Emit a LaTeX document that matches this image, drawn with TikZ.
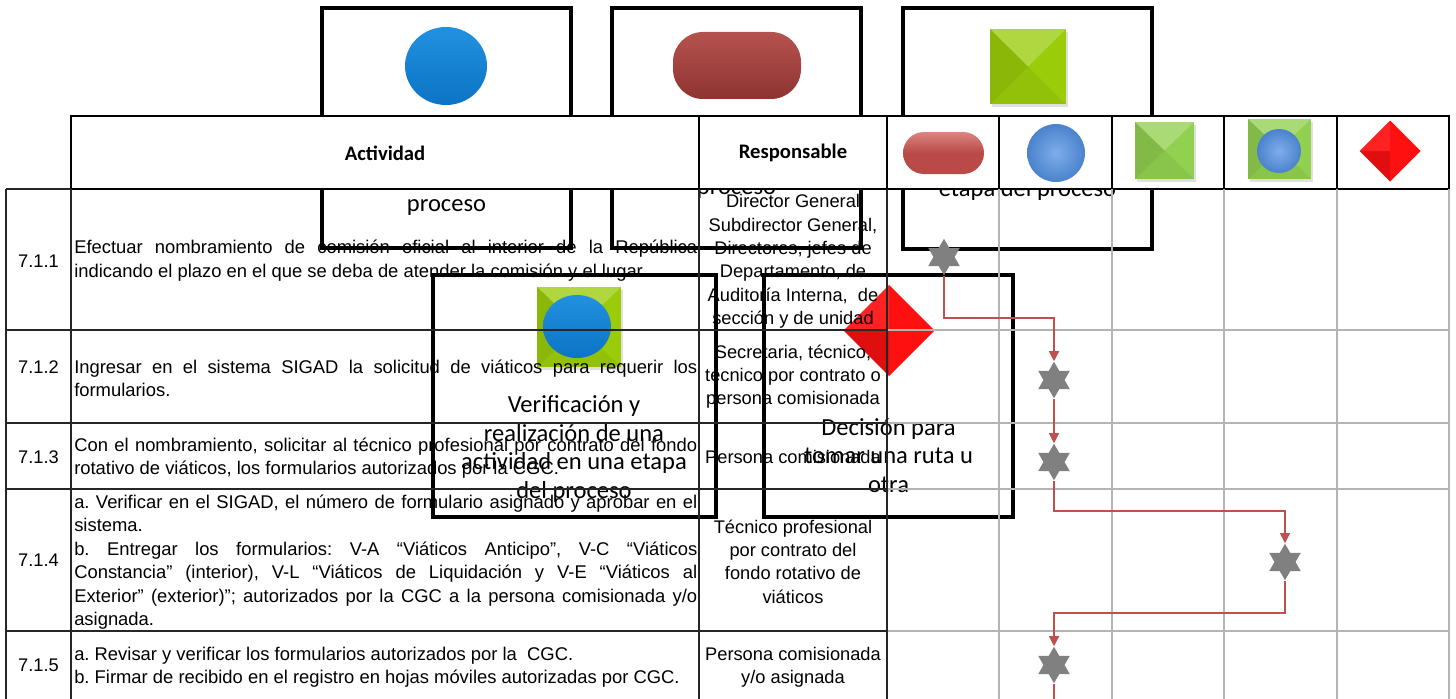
\documentclass[tikz,border=0pt]{standalone}
\usepackage{fontspec}
\setmainfont{Liberation Sans}
\newfontfamily\calib{Carlito}
\usetikzlibrary{shapes.geometric,arrows.meta,calc}
\newdimen\px \px=0.75pt
\hyphenpenalty=10000 \exhyphenpenalty=10000
\frenchspacing
\definecolor{boxblue}{HTML}{0C74C4}
\definecolor{boxbluelt}{HTML}{2290E0}
\definecolor{boxred}{HTML}{8F3431}
\definecolor{boxredlt}{HTML}{B5524E}
\definecolor{boxgreen}{HTML}{9BCC0A}
\definecolor{hdrred}{HTML}{B94A47}
\definecolor{hdrredlt}{HTML}{DC8481}
\definecolor{hdrblue}{HTML}{4A82CC}
\definecolor{hdrbluelt}{HTML}{7EAEEA}
\definecolor{hdrgreen}{HTML}{92D050}
\definecolor{diamred}{HTML}{FF1010}
\definecolor{stargray}{HTML}{808080}
\definecolor{connred}{HTML}{C0504D}
\definecolor{gridgray}{HTML}{B4B4B4}
\newcommand{\jline}[1]{\makebox[623\px][s]{#1}}
\newcommand{\pyrsq}[5]{%
  \fill[black,opacity=.12] ({#1-#3+2},{#2-#4+3}) rectangle ({#1+#3+2},{#2+#4+3});
  \fill[#5] ({#1-#3},{#2-#4}) rectangle ({#1+#3},{#2+#4});
  \fill[white,opacity=.22] ({#1-#3},{#2-#4}) -- ({#1+#3},{#2-#4}) -- (#1,#2) -- cycle;
  \fill[black,opacity=.10] ({#1-#3},{#2-#4}) -- ({#1-#3},{#2+#4}) -- (#1,#2) -- cycle;
  \fill[black,opacity=.05] ({#1-#3},{#2+#4}) -- ({#1+#3},{#2+#4}) -- (#1,#2) -- cycle;
}
\newcommand{\diam}[3]{%
  \fill[diamred] ({#1-#3},#2) -- (#1,{#2-#3}) -- ({#1+#3},#2) -- (#1,{#2+#3}) -- cycle;
  \fill[black,opacity=.12] ({#1-#3},#2) -- (#1,#2) -- (#1,{#2+#3}) -- cycle;
  \fill[white,opacity=.08] ({#1-#3},#2) -- (#1,{#2-#3}) -- (#1,#2) -- cycle;
}
\begin{document}
\begin{tikzpicture}[x=0.75pt,y=-0.75pt,
  legendbox/.style={draw=black,line width=4\px},
  hdrcell/.style={draw=black,line width=1.4\px,fill=white},
  bodyline/.style={draw=black!85,line width=1.5\px},
  gridline/.style={draw=gridgray,line width=1.4\px},
  boxtxt/.style={font=\calib\fontsize{18.4}{21.6}\selectfont,align=center,inner sep=0pt},
  hdrtxt/.style={font=\calib\bfseries\fontsize{15.5}{18}\selectfont,inner sep=0pt},
  acttxt/.style={font=\fontsize{13.8}{17.6}\selectfont,align=left,inner sep=0pt,anchor=west},
  resptxt/.style={font=\fontsize{13.7}{17.5}\selectfont,align=center,inner sep=0pt},
  numtxt/.style={font=\fontsize{13.7}{16}\selectfont,inner sep=0pt},
  stepstar/.style={star,star points=6,star point ratio=1.73,minimum size=36.5\px,inner sep=0pt,fill=stargray,draw=none},
  conn/.style={draw=connred,line width=1.2\px,-{Triangle[width=7.5pt,length=7.5pt]}},
  connplain/.style={draw=connred,line width=1.2\px}]
\useasboundingbox (0,0) rectangle (1456,699);
% ---- legend boxes (top) ----
\draw[legendbox] (322,8) rectangle (571,248);
\shade[top color=boxbluelt,bottom color=boxblue] (446,66) ellipse [x radius=41\px,y radius=39\px];
\node[boxtxt,anchor=base] (t1) at (446.5,211) {proceso};
\draw[legendbox] (612,8) rectangle (861,248);
\shade[top color=boxredlt,bottom color=boxred,rounded corners=30\px] (673,32) rectangle (801,99);
\node[boxtxt,anchor=base] (t2) at (736.5,194) {proceso};
\draw[legendbox] (903,8) rectangle (1152,249);
\pyrsq{1028}{66.5}{38}{37.5}{boxgreen}
\node[boxtxt,anchor=base] (t3) at (1027.5,196) {etapa del proceso};
% ---- legend boxes (lower) ----
\draw[legendbox] (433,275) rectangle (716,517);
\pyrsq{579}{327}{42}{40}{boxgreen}
\shade[top color=boxbluelt,bottom color=boxblue] (577,326.5) ellipse [x radius=34\px,y radius=31.5\px];
\node[boxtxt] (t4) at (574,449) {Verificación y\\realización de una\\actividad en una etapa\\del proceso};
\draw[legendbox] (764,275) rectangle (1013,517);
\diam{889}{330.5}{45.5}
\node[boxtxt] (t5) at (888.5,455.5) {Decisión para\\tomar una ruta u\\otra};
% ---- header ----
\draw[hdrcell] (71,116) rectangle (699,189);
\draw[hdrcell] (699,116) rectangle (887,189);
\foreach \a/\b in {887/999,999/1112,1112/1224,1224/1337,1337/1449}
  \draw[hdrcell] (\a,116) rectangle (\b,189);
\node[hdrtxt] (h1) at (385,153) {Actividad};
\node[hdrtxt] (h2) at (793,153) {Responsable};
\shade[top color=hdrredlt,bottom color=hdrred,middle color=hdrred,rounded corners=21\px] (903,132) rectangle (984,174);
\shade[inner color=hdrbluelt,outer color=hdrblue] (1056,153) circle [radius=29\px];
\pyrsq{1164.5}{150.5}{29.5}{28.5}{hdrgreen}
\pyrsq{1279.5}{149}{31.5}{30}{hdrgreen}
\shade[inner color=hdrbluelt,outer color=hdrblue] (1279,151) circle [radius=22\px];
\diam{1390}{151}{30.5}
% ---- body grid ----
\foreach \y in {330,423,489,631} \draw[gridline] (887,\y) -- (1449,\y);
\foreach \x in {999,1112,1224,1337,1449} \draw[gridline] (\x,189) -- (\x,699);
\draw[bodyline] (6,189) -- (71,189);
\foreach \y in {330,423,489,631} \draw[bodyline] (6,\y) -- (887,\y);
\foreach \x in {6,71,699,887} \draw[bodyline] (\x,189) -- (\x,699);
% ---- numbers ----
\node[numtxt] (n1) at (38.5,261) {7.1.1};
\node[numtxt] (n2) at (38.5,367) {7.1.2};
\node[numtxt] (n3) at (38.5,457) {7.1.3};
\node[numtxt] (n4) at (38.5,560) {7.1.4};
\node[numtxt] (n5) at (38.5,665) {7.1.5};
% ---- activities ----
\node[acttxt] (a1) at (74,260.5) {\jline{Efectuar nombramiento de comisión oficial al interior de la República}\\indicando el plazo en el que se deba de atender la comisión y el lugar.};
\node[acttxt] (a2) at (74,378.5) {\jline{Ingresar en el sistema SIGAD la solicitud de viáticos para requerir los}\\formularios.};
\node[acttxt] (a3) at (74,458) {\jline{Con el nombramiento, solicitar al técnico profesional por contrato del fondo}\\rotativo de viáticos, los formularios autorizados por la CGC.};
\node[acttxt] (a4) at (74,562) {\jline{a. Verificar en el SIGAD, el número de formulario asignado y aprobar en el}\\sistema.\\\jline{b. Entregar los formularios: V-A “Viáticos Anticipo”, V-C “Viáticos}\\\jline{Constancia” (interior), V-L “Viáticos de Liquidación y V-E “Viáticos al}\\\jline{Exterior” (exterior)”; autorizados por la CGC a la persona comisionada y/o}\\asignada.};
\node[acttxt] (a5) at (74,667.5) {a. Revisar y verificar los formularios autorizados por la\ \ CGC.\\b. Firmar de recibido en el registro en hojas móviles autorizadas por CGC.};
% ---- responsables ----
\node[resptxt] (r1) at (793,261.5) {Director General\\Subdirector General,\\Directores, jefes de\\Departamento, de\\Auditoría Interna,\ \ de\\sección y de unidad};
\node[resptxt] (r2) at (793,376.5) {Secretaria, técnico,\\técnico por contrato o\\persona comisionada};
\node[resptxt] (r3) at (793,457) {Persona comisionada};
\node[resptxt] (r4) at (793,561.5) {Técnico profesional\\por contrato del\\fondo rotativo de\\viáticos};
\node[resptxt] (r5) at (793,667.5) {Persona comisionada\\y/o asignada};
% ---- flow ----
\node[stepstar] (s1) at (944,257) {};
\node[stepstar] (s2) at (1054,380) {};
\node[stepstar] (s3) at (1054,462) {};
\node[stepstar] (s4) at (1285,562) {};
\node[stepstar] (s5) at (1054,665) {};
\coordinate (b1) at (1054,318);
\coordinate (b3) at (1285,511);
\coordinate (b4) at (1054,613);
\coordinate (e5) at (1054,702);
\draw[conn] (s1.south) |- (b1) -- (s2.north);
\draw[conn] (s2.south) -- (s3.north);
\draw[conn] (s3.south) |- (b3) -- (s4.north);
\draw[conn] (s4.south) |- (b4) -- (s5.north);
\draw[connplain] (s5.south) -- (e5);
\end{tikzpicture}
\end{document}
